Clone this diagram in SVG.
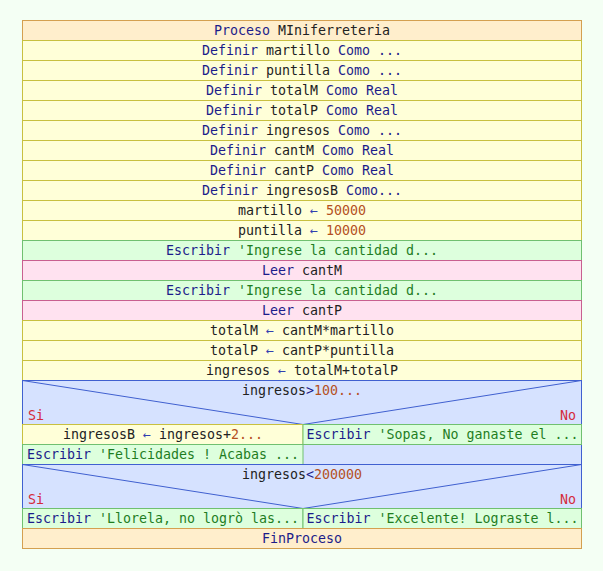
<svg xmlns="http://www.w3.org/2000/svg" width="603" height="571" viewBox="0 0 603 571">
  <style>
    .t { font-family: "DejaVu Sans Mono", "Liberation Mono", monospace; font-size: 13.3px; text-anchor: middle; }
    .k { fill: #1c1c8a; }
    .i { fill: #222222; }
    .n { fill: #b4501e; }
    .s { fill: #1f7d1f; }
    .a { fill: #3040b0; }
    .r { fill: #d42a3a; }
    .proc { fill: #ffeecc; stroke: #d4a050; stroke-width: 1; }
    .asg { fill: #ffffd8; stroke: #c8c040; stroke-width: 1; }
    .wr { fill: #ddffdd; stroke: #70c070; stroke-width: 1; }
    .rd { fill: #ffe2f0; stroke: #c86090; stroke-width: 1; }
    .dec { fill: #d6e2ff; stroke: #4060d0; stroke-width: 1; }
    .diag { stroke: #4060d0; stroke-width: 1; fill: none; }
  </style>
  <rect x="0" y="0" width="603" height="571" fill="#f4fff4"/>

  <g id="proceso">
    <rect class="proc" x="22.5" y="20.5" width="559" height="20"/>
    <text class="t" x="302" y="35"><tspan class="k">Proceso</tspan> <tspan class="i">MIniferreteria</tspan></text>
  </g>
  <g id="def-martillo">
    <rect class="asg" x="22.5" y="40.5" width="559" height="20"/>
    <text class="t" x="302" y="55"><tspan class="k">Definir</tspan> <tspan class="i">martillo</tspan> <tspan class="k">Como ...</tspan></text>
  </g>
  <g id="def-puntilla">
    <rect class="asg" x="22.5" y="60.5" width="559" height="20"/>
    <text class="t" x="302" y="75"><tspan class="k">Definir</tspan> <tspan class="i">puntilla</tspan> <tspan class="k">Como ...</tspan></text>
  </g>
  <g id="def-totalM">
    <rect class="asg" x="22.5" y="80.5" width="559" height="20"/>
    <text class="t" x="302" y="95"><tspan class="k">Definir</tspan> <tspan class="i">totalM</tspan> <tspan class="k">Como Real</tspan></text>
  </g>
  <g id="def-totalP">
    <rect class="asg" x="22.5" y="100.5" width="559" height="20"/>
    <text class="t" x="302" y="115"><tspan class="k">Definir</tspan> <tspan class="i">totalP</tspan> <tspan class="k">Como Real</tspan></text>
  </g>
  <g id="def-ingresos">
    <rect class="asg" x="22.5" y="120.5" width="559" height="20"/>
    <text class="t" x="302" y="135"><tspan class="k">Definir</tspan> <tspan class="i">ingresos</tspan> <tspan class="k">Como ...</tspan></text>
  </g>
  <g id="def-cantM">
    <rect class="asg" x="22.5" y="140.5" width="559" height="20"/>
    <text class="t" x="302" y="155"><tspan class="k">Definir</tspan> <tspan class="i">cantM</tspan> <tspan class="k">Como Real</tspan></text>
  </g>
  <g id="def-cantP">
    <rect class="asg" x="22.5" y="160.5" width="559" height="20"/>
    <text class="t" x="302" y="175"><tspan class="k">Definir</tspan> <tspan class="i">cantP</tspan> <tspan class="k">Como Real</tspan></text>
  </g>
  <g id="def-ingresosB">
    <rect class="asg" x="22.5" y="180.5" width="559" height="20"/>
    <text class="t" x="302" y="195"><tspan class="k">Definir</tspan> <tspan class="i">ingresosB</tspan> <tspan class="k">Como...</tspan></text>
  </g>
  <g id="asg-martillo">
    <rect class="asg" x="22.5" y="200.5" width="559" height="20"/>
    <text class="t" x="302" y="215"><tspan class="i">martillo</tspan> <tspan class="a">←</tspan> <tspan class="n">50000</tspan></text>
  </g>
  <g id="asg-puntilla">
    <rect class="asg" x="22.5" y="220.5" width="559" height="20"/>
    <text class="t" x="302" y="235"><tspan class="i">puntilla</tspan> <tspan class="a">←</tspan> <tspan class="n">10000</tspan></text>
  </g>
  <g id="esc-1">
    <rect class="wr" x="22.5" y="240.5" width="559" height="20"/>
    <text class="t" x="302" y="255"><tspan class="k">Escribir</tspan> <tspan class="s">'Ingrese la cantidad d...</tspan></text>
  </g>
  <g id="leer-cantM">
    <rect class="rd" x="22.5" y="260.5" width="559" height="20"/>
    <text class="t" x="302" y="275"><tspan class="k">Leer</tspan> <tspan class="i">cantM</tspan></text>
  </g>
  <g id="esc-2">
    <rect class="wr" x="22.5" y="280.5" width="559" height="20"/>
    <text class="t" x="302" y="295"><tspan class="k">Escribir</tspan> <tspan class="s">'Ingrese la cantidad d...</tspan></text>
  </g>
  <g id="leer-cantP">
    <rect class="rd" x="22.5" y="300.5" width="559" height="20"/>
    <text class="t" x="302" y="315"><tspan class="k">Leer</tspan> <tspan class="i">cantP</tspan></text>
  </g>
  <g id="asg-totalM">
    <rect class="asg" x="22.5" y="320.5" width="559" height="20"/>
    <text class="t" x="302" y="335"><tspan class="i">totalM</tspan> <tspan class="a">←</tspan> <tspan class="i">cantM*martillo</tspan></text>
  </g>
  <g id="asg-totalP">
    <rect class="asg" x="22.5" y="340.5" width="559" height="20"/>
    <text class="t" x="302" y="355"><tspan class="i">totalP</tspan> <tspan class="a">←</tspan> <tspan class="i">cantP*puntilla</tspan></text>
  </g>
  <g id="asg-ingresos">
    <rect class="asg" x="22.5" y="360.5" width="559" height="20"/>
    <text class="t" x="302" y="375"><tspan class="i">ingresos</tspan> <tspan class="a">←</tspan> <tspan class="i">totalM+totalP</tspan></text>
  </g>

  <!-- first conditional: ingresos>100... -->
  <g id="si-1">
    <rect class="dec" x="22.5" y="380.5" width="559" height="84"/>
    <path class="diag" d="M22.5 380.5 L303 424.5 L581.5 380.5"/>
    <text class="t" x="302" y="395"><tspan class="i">ingresos</tspan><tspan class="k">&gt;</tspan><tspan class="n">100...</tspan></text>
    <text class="t r" x="28" y="420" style="text-anchor:start">Si</text>
    <text class="t r" x="576" y="420" style="text-anchor:end">No</text>
  </g>
  <g id="asg-ingresosB">
    <rect class="asg" x="22.5" y="424.5" width="280.5" height="20"/>
    <text class="t" x="163" y="439"><tspan class="i">ingresosB</tspan> <tspan class="a">←</tspan> <tspan class="i">ingresos+</tspan><tspan class="n">2...</tspan></text>
  </g>
  <g id="esc-felicidades">
    <rect class="wr" x="22.5" y="444.5" width="280.5" height="20"/>
    <text class="t" x="163" y="459"><tspan class="k">Escribir</tspan> <tspan class="s">'Felicidades ! Acabas ...</tspan></text>
  </g>
  <g id="esc-sopas">
    <rect class="wr" x="303" y="424.5" width="278.5" height="20"/>
    <text class="t" x="442.5" y="439"><tspan class="k">Escribir</tspan> <tspan class="s">'Sopas, No ganaste el ...</tspan></text>
  </g>

  <!-- second conditional: ingresos<200000 -->
  <g id="si-2">
    <rect class="dec" x="22.5" y="464.5" width="559" height="64"/>
    <path class="diag" d="M22.5 464.5 L303 508.5 L581.5 464.5"/>
    <text class="t" x="302" y="479"><tspan class="i">ingresos</tspan><tspan class="k">&lt;</tspan><tspan class="n">200000</tspan></text>
    <text class="t r" x="28" y="504" style="text-anchor:start">Si</text>
    <text class="t r" x="576" y="504" style="text-anchor:end">No</text>
  </g>
  <g id="esc-llorela">
    <rect class="wr" x="22.5" y="508.5" width="280.5" height="20"/>
    <text class="t" x="163" y="523"><tspan class="k">Escribir</tspan> <tspan class="s">'Llorela, no logrò las...</tspan></text>
  </g>
  <g id="esc-excelente">
    <rect class="wr" x="303" y="508.5" width="278.5" height="20"/>
    <text class="t" x="442.5" y="523"><tspan class="k">Escribir</tspan> <tspan class="s">'Excelente! Lograste l...</tspan></text>
  </g>

  <g id="fin-proceso">
    <rect class="proc" x="22.5" y="528.5" width="559" height="20"/>
    <text class="t" x="302" y="543"><tspan class="k">FinProceso</tspan></text>
  </g>
</svg>
